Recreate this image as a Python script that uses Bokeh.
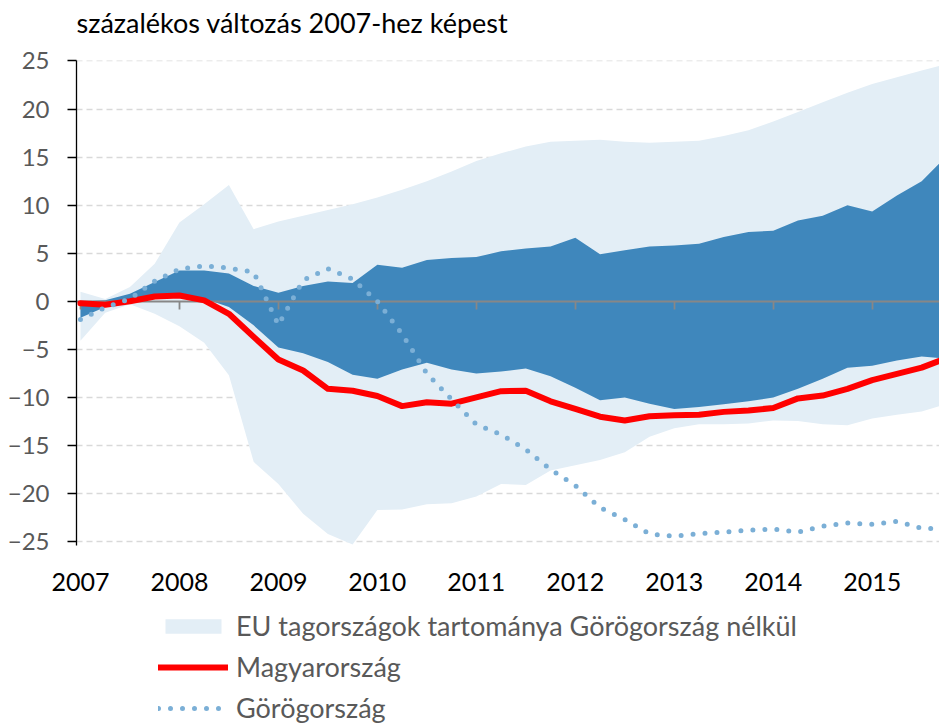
from bokeh.plotting import figure
from bokeh.layouts import column
from bokeh.models import (Range1d, FixedTicker, LinearAxis, Legend, LegendItem,
                          ColumnDataSource, Label)
from bokeh.embed import file_html
from bokeh.resources import INLINE

# quarterly observations 2007Q1 .. 2015Q4
years = [2007, 2008, 2009, 2010, 2011, 2012, 2013, 2014, 2015]
quarters = [f"{y}Q{q}" for y in years for q in (1, 2, 3, 4)]

eu_max = [1.0, 0.25, 1.5, 3.9, 8.2, 10.1, 12.1, 7.5, 8.3, 8.9, 9.5, 10.1,
          10.8, 11.6, 12.5, 13.5, 14.6, 15.4, 16.1, 16.6, 16.7, 16.8, 16.6, 16.5,
          16.6, 16.7, 17.2, 17.8, 18.7, 19.7, 20.7, 21.7, 22.6, 23.3, 24.0, 24.7]
eu_min = [-4.1, -1.2, -0.3, -1.3, -2.6, -4.3, -7.7, -16.7, -19.0, -22.1, -24.2, -25.3,
          -21.7, -21.65, -21.1, -21.0, -20.3, -19.0, -19.1, -17.6, -17.05, -16.5, -15.7, -14.1,
          -13.2, -12.8, -12.8, -12.7, -12.4, -12.45, -12.8, -12.9, -12.2, -11.8, -11.45, -10.7]
mid_high = [0.0, 0.1, 0.8, 2.0, 3.2, 3.2, 2.9, 1.6, 0.9, 1.6, 2.05, 1.9,
            3.8, 3.5, 4.3, 4.5, 4.6, 5.2, 5.5, 5.7, 6.6, 4.9, 5.3, 5.7,
            5.8, 6.0, 6.7, 7.2, 7.35, 8.4, 8.9, 10.0, 9.35, 11.0, 12.5, 15.1]
mid_low = [-1.7, -0.6, -0.1, 0.3, 0.6, 0.3, -0.6, -2.5, -4.8, -5.4, -6.3, -7.65,
           -8.05, -7.1, -6.4, -7.1, -7.5, -7.3, -7.0, -7.8, -9.0, -10.3, -10.0, -10.65,
           -11.2, -11.0, -10.7, -10.4, -10.0, -9.1, -8.05, -6.9, -6.7, -6.15, -5.75, -5.95]
hungary = [-0.2, -0.35, 0.0, 0.5, 0.6, 0.1, -1.3, -3.7, -6.05, -7.2, -9.1, -9.3,
           -9.85, -10.9, -10.5, -10.65, -10.0, -9.35, -9.3, -10.4, -11.2, -12.0, -12.4, -11.95,
           -11.85, -11.8, -11.5, -11.35, -11.1, -10.1, -9.8, -9.1, -8.2, -7.55, -6.9, -5.9]
greece = [-1.9, -0.65, 0.25, 2.1, 3.35, 3.7, 3.45, 3.05, -2.45, 2.2, 3.4, 2.3,
          0.0, -3.4, -7.5, -10.2, -12.8, -13.85, -15.4, -17.5, -19.15, -21.45, -22.7, -24.2,
          -24.45, -24.15, -24.0, -23.8, -23.7, -24.0, -23.4, -23.05, -23.2, -22.9, -23.6, -23.7]
y_ticks = [-25, -20, -15, -10, -5, 0, 5, 10, 15, 20, 25]

title_text = "százalékos változás 2007-hez képest"
legend_labels = ["EU tagországok tartománya Görögország nélkül", "Magyarország", "Görögország"]

x = list(range(len(quarters)))
src = ColumnDataSource(dict(x=x, q=quarters, eu_max=eu_max, eu_min=eu_min,
                            mid_high=mid_high, mid_low=mid_low, hu=hungary, gr=greece))

FONT = "Lato"
C_EU = "#E3EEF6"
C_MID = "#3F87BC"
C_HU = "#FF0000"
C_GR = "#7BAFD6"

W = 939
TITLE_H = 42
MAIN_H = 558
LEG_H = 724 - TITLE_H - MAIN_H

# title strip
tf = figure(width=W, height=TITLE_H, output_backend="svg", toolbar_location=None,
            x_axis_location=None, y_axis_location=None,
            x_range=Range1d(0, 1), y_range=Range1d(0, 1),
            min_border_left=0, min_border_right=0, min_border_top=0, min_border_bottom=0)
tf.grid.visible = False
tf.outline_line_color = None
tf.border_fill_color = "white"
tf.add_layout(Label(x=0, y=20, x_units="screen", y_units="screen", text=title_text,
                    text_font=FONT, text_font_size="27px", text_color="black",
                    text_baseline="alphabetic", text_align="left"))

# main chart
p = figure(width=W, height=MAIN_H, output_backend="svg", toolbar_location=None,
           x_range=Range1d(-0.16, 34.72), y_range=Range1d(-25.4, 25.05),
           min_border_left=76, min_border_right=0, min_border_top=18, min_border_bottom=55)
p.outline_line_color = None
p.background_fill_color = "white"
p.border_fill_color = "white"

# grid
p.xgrid.visible = False
p.ygrid.ticker = FixedTicker(ticks=y_ticks)
p.ygrid.grid_line_color = "#D9D9D9"
p.ygrid.grid_line_width = 1.3
p.ygrid.grid_line_dash = "6 4"

# y axis
p.yaxis.ticker = FixedTicker(ticks=y_ticks)
p.yaxis.axis_line_color = "black"
p.yaxis.axis_line_width = 1.3
p.yaxis.major_tick_line_color = "black"
p.yaxis.major_tick_line_width = 1.3
p.yaxis.major_tick_out = 9
p.yaxis.major_tick_in = 0
p.yaxis.minor_tick_line_color = None
p.yaxis.major_label_text_font = FONT
p.yaxis.major_label_text_font_size = "24px"
p.yaxis.major_label_text_color = "#595959"
p.yaxis.major_label_standoff = 18

# x axis: line and ticks at zero
year_ticks = [i for i, q in enumerate(quarters) if q.endswith("Q1")]
xa = p.xaxis[0]
xa.fixed_location = 0
xa.ticker = FixedTicker(ticks=year_ticks)
xa.axis_line_color = "#878787"
xa.axis_line_width = 1.8
xa.major_tick_line_color = "#878787"
xa.major_tick_line_width = 1.8
xa.major_tick_out = 8
xa.major_tick_in = 0
xa.minor_tick_line_color = None
xa.major_label_overrides = {t: "" for t in year_ticks}
xa.major_label_text_font_size = "1px"

# x axis labels at the bottom
lab = LinearAxis(ticker=FixedTicker(ticks=year_ticks))
lab.axis_line_color = None
lab.major_tick_line_color = None
lab.minor_tick_line_color = None
lab.major_label_overrides = {t: q[:4] for t, q in zip(x, quarters) if t in year_ticks}
lab.major_label_text_font = FONT
lab.major_label_text_font_size = "25px"
lab.major_label_text_color = "black"
lab.major_label_standoff = 21
p.add_layout(lab, "below")

p.varea(x="x", y1="eu_min", y2="eu_max", source=src, fill_color=C_EU)
p.varea(x="x", y1="mid_low", y2="mid_high", source=src, fill_color=C_MID)
p.line(x="x", y="hu", source=src, line_color=C_HU, line_width=6,
       line_join="round", line_cap="round", level="annotation")
p.line(x="x", y="gr", source=src, line_color=C_GR, line_width=5,
       line_dash="0 12", line_cap="round", level="annotation")

# legend panel below the chart (its own renderers sit outside the visible range)
lg = figure(width=W, height=LEG_H, output_backend="svg", toolbar_location=None,
            x_axis_location=None, y_axis_location=None,
            x_range=Range1d(0, 1), y_range=Range1d(1000, 1001),
            min_border_left=0, min_border_right=0, min_border_top=0, min_border_bottom=0)
lg.grid.visible = False
lg.outline_line_color = None
lg.border_fill_color = "white"
l_eu = lg.varea(x="x", y1="eu_min", y2="eu_max", source=src, fill_color=C_EU)
l_hu = lg.line(x="x", y="hu", source=src, line_color=C_HU, line_width=6, line_cap="round")
l_gr = lg.line(x="x", y="gr", source=src, line_color=C_GR, line_width=5,
               line_dash="0 12", line_cap="round")

legend = Legend(items=[LegendItem(label=legend_labels[0], renderers=[l_eu]),
                       LegendItem(label=legend_labels[1], renderers=[l_hu]),
                       LegendItem(label=legend_labels[2], renderers=[l_gr])],
                location=(82, 0), orientation="vertical")
legend.label_text_font = FONT
legend.label_text_font_size = "27px"
legend.label_text_color = "#595959"
legend.glyph_width = 70
legend.glyph_height = 18
legend.label_height = 30
legend.label_standoff = 8
legend.spacing = 8
legend.padding = 0
legend.margin = 0
legend.border_line_color = None
legend.background_fill_alpha = 0
lg.add_layout(legend, "center")

layout = column(tf, p, lg, spacing=0)
open("out.html", "w").write(file_html(layout, INLINE))
